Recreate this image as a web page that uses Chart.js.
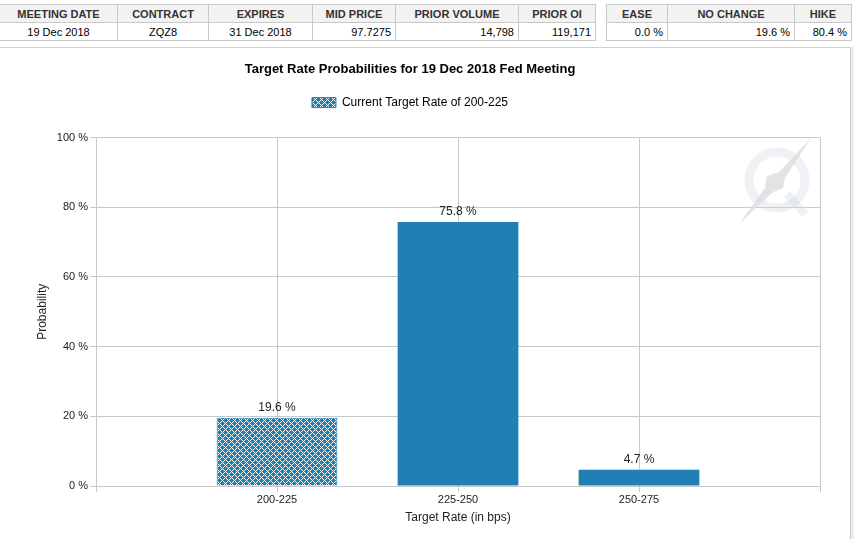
<!DOCTYPE html>
<html>
<head>
<meta charset="utf-8">
<script src="https://cdn.jsdelivr.net/npm/chart.js@4.4.0/dist/chart.umd.min.js"></script>
<style>
  html, body { margin: 0; padding: 0; background: #fff; font-family: "Liberation Sans", Arial, sans-serif; }
  body { width: 854px; height: 539px; position: relative; overflow: hidden; }
  table { position: absolute; top: 4px; border-collapse: collapse; font-size: 11px; }
  td, th { border: 1px solid #c8c8c8; height: 17px; padding: 0 4px; }
  th { background: #f2f2f2; color: #333; font-weight: bold; text-align: center; }
  td { color: #000; text-align: right; }
  td.c { text-align: center; }
  #tblLeft { left: -1px; }
  #tblRight { left: 606px; }
  #wrap { position: absolute; left: 0; top: 47px; width: 850px; height: 492px; border-top: 1px solid #d0d0d0; border-right: 1px solid #c8c8c8; }
  #strip { position: absolute; left: 851px; top: 47px; width: 3px; height: 492px; background: #eeeeee; }
</style>
</head>
<body>
<table id="tblLeft"></table>
<table id="tblRight"></table>
<div id="wrap"><canvas id="chart" width="850" height="491"></canvas></div>
<div id="strip"></div>
<script>
// табличні дані
const leftHeaders = ['MEETING DATE', 'CONTRACT', 'EXPIRES', 'MID PRICE', 'PRIOR VOLUME', 'PRIOR OI'];
const leftValues = ['19 Dec 2018', 'ZQZ8', '31 Dec 2018', '97.7275', '14,798', '119,171'];
const leftWidths = [118, 91, 104, 83, 123, 77];
const rightHeaders = ['EASE', 'NO CHANGE', 'HIKE'];
const rightValues = ['0.0 %', '19.6 %', '80.4 %'];
const rightWidths = [61, 127, 57];

// дані графіка
const categories = ['', '200-225', '225-250', '250-275', ''];
const probabilities = [null, 19.6, 75.8, 4.7, null];
const yTicks = [0, 20, 40, 60, 80, 100];
const currentIndex = 1;

function buildTable(id, headers, values, widths) {
    const t = document.getElementById(id);
    let h = '<tr>' + headers.map((s, i) => `<th style="width:${widths[i] - 9}px">${s}</th>`).join('') + '</tr>';
    h += '<tr>' + values.map((s, i) => `<td class="${id === 'tblLeft' && i < 3 ? 'c' : ''}">${s}</td>`).join('') + '</tr>';
    t.innerHTML = h;
}
buildTable('tblLeft', leftHeaders, leftValues, leftWidths);
buildTable('tblRight', rightHeaders, rightValues, rightWidths);

const BLUE = '#2080b4';

// штрихування для поточної ставки
function makePattern() {
    const c = document.createElement('canvas');
    c.width = 6; c.height = 6;
    const g = c.getContext('2d');
    const img = g.createImageData(6, 6);
    for (let y = 0; y < 6; y++) {
        for (let x = 0; x < 6; x++) {
            const white = (x + y) % 6 === 0 || (x - y + 6) % 6 === 0;
            const k = (y * 6 + x) * 4;
            img.data[k] = white ? 255 : 32;
            img.data[k + 1] = white ? 255 : 128;
            img.data[k + 2] = white ? 255 : 180;
            img.data[k + 3] = 255;
        }
    }
    g.putImageData(img, 0, 0);
    return g.createPattern(c, 'repeat');
}
const pattern = makePattern();

const fmt = v => v.toFixed(1) + ' %';

// підписи над стовпчиками
const valueLabels = {
    id: 'valueLabels',
    afterDatasetsDraw(chart) {
        const ctx = chart.ctx;
        const meta = chart.getDatasetMeta(0);
        ctx.save();
        ctx.font = '12px "Liberation Sans", Arial, sans-serif';
        ctx.fillStyle = '#222';
        ctx.textAlign = 'center';
        ctx.textBaseline = 'middle';
        meta.data.forEach((bar, i) => {
            const v = probabilities[i];
            if (v === null) return;
            ctx.fillText(fmt(v), bar.x, bar.y - 10);
        });
        ctx.restore();
    }
};

// додатковий відступ під легендою
const legendGap = {
    id: 'legendGap',
    afterInit(chart) {
        const l = chart.legend;
        if (!l) return;
        const fit = l.fit.bind(l);
        l.fit = function () { fit(); this.height += 19; };
    }
};

// водяний знак
const watermark = {
    id: 'watermark',
    beforeDatasetsDraw(chart) {
        const ctx = chart.ctx;
        const cx = 777, cy = 132, r = 28;
        ctx.save();
        ctx.strokeStyle = 'rgba(205,215,225,0.35)';
        ctx.lineWidth = 9;
        ctx.beginPath();
        ctx.arc(cx, cy, r, 0, Math.PI * 2);
        ctx.stroke();
        ctx.lineWidth = 8;
        ctx.beginPath();
        ctx.moveTo(cx + 10, cy + 14);
        ctx.lineTo(cx + 28, cy + 34);
        ctx.stroke();
        ctx.fillStyle = 'rgba(220,220,220,0.8)';
        ctx.beginPath();
        ctx.moveTo(cx + 34, cy - 42);
        ctx.lineTo(cx + 8, cy - 2);
        ctx.lineTo(cx + 6, cy + 8);
        ctx.lineTo(cx - 4, cy + 12);
        ctx.lineTo(cx - 38, cy + 44);
        ctx.lineTo(cx - 12, cy + 8);
        ctx.lineTo(cx - 10, cy - 4);
        ctx.lineTo(cx + 2, cy - 8);
        ctx.closePath();
        ctx.fill();
        ctx.restore();
    }
};

const FONT = '"Liberation Sans", Arial, sans-serif';
Chart.defaults.font.family = FONT;
Chart.defaults.color = '#222';

new Chart(document.getElementById('chart').getContext('2d'), {
    type: 'bar',
    data: {
        labels: categories,
        datasets: [{
            label: 'Current Target Rate of 200-225',
            data: probabilities,
            backgroundColor: c => c.dataIndex === currentIndex ? pattern : BLUE,
            borderColor: BLUE,
            borderWidth: c => c.dataIndex === currentIndex ? 1 : 0,
            barPercentage: 0.667,
            categoryPercentage: 1
        }]
    },
    options: {
        responsive: false,
        animation: false,
        layout: { padding: { left: 0, right: 30, top: 0, bottom: 0 } },
        plugins: {
            title: {
                display: true,
                text: 'Target Rate Probabilities for 19 Dec 2018 Fed Meeting',
                color: '#000',
                font: { size: 13, weight: 'bold' },
                padding: { top: 14, bottom: 9 }
            },
            legend: {
                labels: {
                    boxWidth: 24,
                    boxHeight: 10,
                    color: '#222',
                    font: { size: 12 },
                    generateLabels: () => [{
                        text: 'Current Target Rate of 200-225',
                        fillStyle: pattern,
                        strokeStyle: BLUE,
                        lineWidth: 1,
                        datasetIndex: 0
                    }]
                }
            },
            tooltip: { enabled: false }
        },
        scales: {
            x: {
                offset: false,
                afterFit: s => { s.height = 53; },
                grid: { color: '#c8c8c8', tickLength: 6, offset: false },
                border: { color: '#c8c8c8' },
                ticks: { font: { size: 11 }, color: '#222', padding: 1, maxRotation: 0, autoSkip: false },
                title: { display: true, text: 'Target Rate (in bps)', font: { size: 12 }, color: '#222', padding: { top: 0, bottom: 14 } }
            },
            y: {
                min: 0,
                max: 100,
                afterBuildTicks: s => { s.ticks = yTicks.map(v => ({ value: v })); },
                afterFit: s => { s.width = 96; },
                grid: { color: '#c8c8c8', tickLength: 6 },
                border: { color: '#c8c8c8' },
                ticks: { font: { size: 11 }, color: '#222', padding: 2, callback: v => v + ' %' },
                title: { display: true, text: 'Probability', font: { size: 12 }, color: '#222', padding: { top: 35, bottom: 0 } }
            }
        }
    },
    plugins: [legendGap, watermark, valueLabels]
});
</script>
</body>
</html>
